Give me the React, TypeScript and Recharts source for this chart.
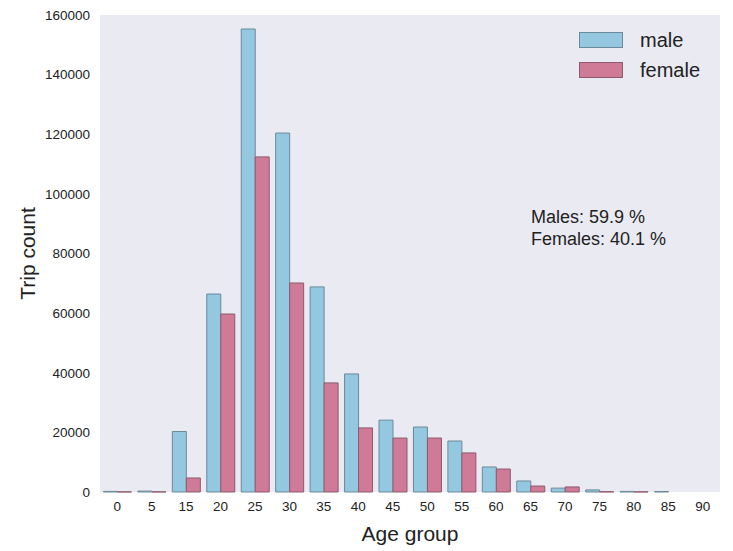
import React from "react";
import { BarChart, Bar, XAxis, YAxis, CartesianGrid } from "recharts";

const ageGroups = ["0", "5", "15", "20", "25", "30", "35", "40", "45", "50", "55", "60", "65", "70", "75", "80", "85", "90"];
const maleCounts = [200, 300, 20300, 66400, 155300, 120400, 68800, 39600, 24100, 21800, 17100, 8400, 3700, 1300, 700, 200, 150, 0];
const femaleCounts = [50, 50, 4700, 59700, 112400, 70100, 36600, 21500, 18100, 18100, 13100, 7700, 2000, 1700, 100, 50, 0, 0];
const yTicks = [0, 20000, 40000, 60000, 80000, 100000, 120000, 140000, 160000];

const data = ageGroups.map((g, i) => ({ age: g, male: maleCounts[i], female: femaleCounts[i] }));

const FONT = '"Liberation Sans", Arial, sans-serif';
const MALE_FILL = "#93c8e0";
const FEMALE_FILL = "#cf7a96";
const MALE_STROKE = "#6a8a9a";
const FEMALE_STROKE = "#8e5a6c";

const legendItems = [
  { name: "male", fill: MALE_FILL, stroke: MALE_STROKE },
  { name: "female", fill: FEMALE_FILL, stroke: FEMALE_STROKE },
];

export default function App() {
  return (
    <div style={{ position: "absolute", left: 0, top: 0, width: 733, height: 551, background: "#fff" }}>
      <BarChart
        width={733}
        height={551}
        data={data}
        margin={{ top: 15, right: 13, bottom: 0, left: 0 }}
        barCategoryGap="10%"
        barGap={0}
      >
        <rect x={100} y={15} width={620} height={477} fill="#eaeaf2" />
        <CartesianGrid vertical={false} stroke="#ffffff" strokeWidth={1.2} />
        <XAxis
          dataKey="age"
          height={59}
          axisLine={false}
          tickLine={false}
          tickSize={0}
          tickMargin={9}
          interval={0}
          tick={{ fill: "#222", fontSize: 13.5, fontFamily: FONT }}
          label={{ value: "Age group", position: "insideBottom", offset: 10, fill: "#222", fontSize: 21, fontFamily: FONT }}
        />
        <YAxis
          width={100}
          domain={[0, 160000]}
          ticks={yTicks}
          axisLine={false}
          tickLine={false}
          tickSize={0}
          tickMargin={10}
          interval={0}
          tick={{ fill: "#222", fontSize: 13.5, fontFamily: FONT }}
          label={{ value: "Trip count", angle: -90, position: "insideLeft", offset: 28, fill: "#222", fontSize: 21, fontFamily: FONT, style: { textAnchor: "middle" } }}
        />
        <Bar dataKey="male" name="male" fill={MALE_FILL} stroke={MALE_STROKE} strokeWidth={1} isAnimationActive={false} />
        <Bar dataKey="female" name="female" fill={FEMALE_FILL} stroke={FEMALE_STROKE} strokeWidth={1} isAnimationActive={false} />
      </BarChart>
      <div style={{ position: "absolute", left: 579, top: 25, fontFamily: FONT, fontSize: 20, color: "#222" }}>
        {legendItems.map((it) => (
          <div key={it.name} style={{ display: "flex", alignItems: "center", height: 30 }}>
            <div style={{ width: 44, height: 16, background: it.fill, border: `1px solid ${it.stroke}`, boxSizing: "border-box", marginRight: 17 }} />
            <span>{it.name}</span>
          </div>
        ))}
      </div>
      <div style={{ position: "absolute", left: 531, top: 206, fontFamily: FONT, fontSize: 18, lineHeight: "22px", color: "#222" }}>
        <div>Males: 59.9 %</div>
        <div>Females: 40.1 %</div>
      </div>
    </div>
  );
}
